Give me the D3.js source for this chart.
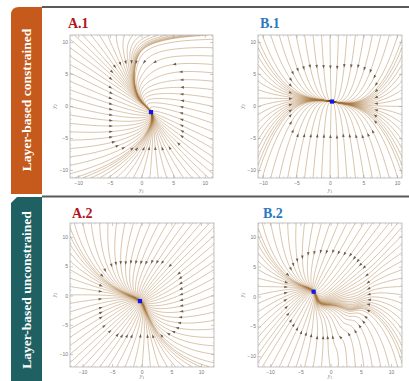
<!DOCTYPE html>
<html>
<head>
<meta charset="utf-8">
<script src="https://cdn.jsdelivr.net/npm/d3@7"></script>
<style>
  html, body { margin: 0; padding: 0; background: #fff; }
  svg { display: block; }
</style>
</head>
<body>
<div id="chart"></div>
<script>
// values (data coordinates)
const panelTitles = ["A.1", "B.1", "A.2", "B.2"];
const rowLabels = ["Layer-based constrained", "Layer-based unconstrained"];
const tickValues = [-10, -5, 0, 5, 10];

const xDomainA1 = [-11.3, 11.3], yDomainA1 = [-11.25, 11.1];
const xDomainB1 = [-10.75, 10.75], yDomainB1 = [-11.25, 11.1];
const xDomainA2 = [-12.1, 12.2], yDomainA2 = [-12.2, 12.4];
const xDomainB2 = [-12.0, 11.8], yDomainB2 = [-11.8, 12.3];

// fixed points (blue dots)
const fixedA1 = [1.5, -0.95];
const fixedB1 = [0.3, 0.7];
const fixedA2 = [-0.3, -0.94];
const fixedB2 = [-2.8, 0.8];

// fast contraction direction of each field
const fastA1 = [0.894, -0.447];
const fastB1 = [0, 1];
const fastA2 = [0.707, 0.707];
const fastB2 = [0.447, 0.894];

// dense bundles of streamlines (slow manifold)
const manifoldA1 = [[1.5, -13], [1.5, -4], [1.5, -0.95], [0.4, 0.1], [-0.8, 1.2], [-1.4, 3], [-1.5, 4.8],
  [-1.2, 6.5], [-0.75, 8], [0.3, 9.1], [1.8, 9.8], [4, 10.3], [6, 10.6], [9, 10.8], [11.3, 10.9], [15, 11]];
const manifoldB1 = [[-14, 1.4], [-5.8, 1.15], [-3, 1.05], [-0.7, 0.85], [0.3, 0.7], [1.5, 0.45],
  [3.5, 0.2], [5.7, 0.05], [14, -0.3]];
const manifoldA2 = [[-15, 2.2], [-6.4, 0.38], [-3.6, -0.2], [-0.3, -0.94], [0.03, -2.5], [0.4, -4.75],
  [0.6, -7], [1.1, -15]];
const manifoldB2 = [[-15, 1.6], [-5, 1.1], [-2.8, 0.8], [-2.35, -1.7], [0.13, -0.87], [2.9, 0],
  [5.1, 0.8], [7.3, 2.8], [12, 5]];

// fast / slow rate ratio
const ratioA1 = 1.6, ratioB1 = 3, ratioA2 = 1.7, ratioB2 = 1.8;

// where the arrow heads sit: centre x, centre y, half width, half height, roundness
const arrowRingA1 = [0.75, 0.1, 5.75, 6.8, 6];
const arrowRingB1 = [0.45, 0.7, 6.45, 5.6, 6];
const arrowRingA2 = [-0.1, -0.6, 6.9, 6.4, 4];
const arrowRingB2 = [-0.5, 0.3, 7.0, 7.3, 2.5];

const seedsPerEdge = 17;

const width = 409, height = 381;

const svg = d3.select("#chart").append("svg")
  .attr("width", width)
  .attr("height", height);

// ---- side tabs and separators
const orange = "#c55a1c", teal = "#1f6163";
svg.append("path")
  .attr("d", "M11,15 Q11,7 19,7 L42,7 L42,194 L11,194 Z")
  .attr("fill", orange);
svg.append("path")
  .attr("d", "M11,203 L17,197 L42,197 L42,381 L11,381 Z")
  .attr("fill", teal);

svg.append("line").attr("x1", 42).attr("x2", width).attr("y1", 7).attr("y2", 7)
  .attr("stroke", "#5a5a5a").attr("stroke-width", 2);
svg.append("line").attr("x1", 42).attr("x2", width).attr("y1", 196.5).attr("y2", 196.5)
  .attr("stroke", "#5a5a5a").attr("stroke-width", 2);

[[100, rowLabels[0]], [290, rowLabels[1]]].forEach(([cy, label]) => {
  svg.append("text")
    .attr("transform", "translate(31," + cy + ") rotate(-90)")
    .attr("text-anchor", "middle")
    .attr("font-family", "Liberation Serif, serif")
    .attr("font-weight", "bold")
    .attr("font-size", "13.5px")
    .attr("fill", "#fff")
    .text(label);
});

// ---- panels
const panels = [
  { title: panelTitles[0], color: "#b3161c", xDom: xDomainA1, yDom: yDomainA1, fixed: fixedA1, fast: fastA1,
    manifold: manifoldA1, ratio: ratioA1, ring: arrowRingA1, left: 70, right: 213, top: 35, bottom: 178, tx: 68, ty: 28 },
  { title: panelTitles[1], color: "#2a78c0", xDom: xDomainB1, yDom: yDomainB1, fixed: fixedB1, fast: fastB1,
    manifold: manifoldB1, ratio: ratioB1, ring: arrowRingB1, left: 258, right: 402, top: 35, bottom: 178, tx: 260, ty: 28 },
  { title: panelTitles[2], color: "#b3161c", xDom: xDomainA2, yDom: yDomainA2, fixed: fixedA2, fast: fastA2,
    manifold: manifoldA2, ratio: ratioA2, ring: arrowRingA2, left: 70, right: 214, top: 223, bottom: 367, tx: 72, ty: 218 },
  { title: panelTitles[3], color: "#2a78c0", xDom: xDomainB2, yDom: yDomainB2, fixed: fixedB2, fast: fastB2,
    manifold: manifoldB2, ratio: ratioB2, ring: arrowRingB2, left: 258, right: 402, top: 223, bottom: 367, tx: 263, ty: 218 }
];

// builds w = g(s): offset of the bundle along the fast direction, as a function of the slow coordinate
function buildManifold(p) {
  const f = p.fast, n = [f[1], -f[0]];
  let sv = p.manifold.map(d => (d[0] - p.fixed[0]) * n[0] + (d[1] - p.fixed[1]) * n[1]);
  let wv = p.manifold.map(d => (d[0] - p.fixed[0]) * f[0] + (d[1] - p.fixed[1]) * f[1]);
  const si = d3.interpolateBasis(sv), wi = d3.interpolateBasis(wv);
  let ss = d3.range(0, 301).map(i => si(i / 300));
  let ws = d3.range(0, 301).map(i => wi(i / 300));
  if (ss[ss.length - 1] < ss[0]) { ss.reverse(); ws.reverse(); }
  const raw = d3.scaleLinear().domain(ss).range(ws);
  const off = raw(0);
  return { n: n, f: f, g: s => raw(s) - off };
}

function streamline(p, m, seed) {
  const rx = seed[0] - p.fixed[0], ry = seed[1] - p.fixed[1];
  const s0 = rx * m.n[0] + ry * m.n[1];
  const w0 = rx * m.f[0] + ry * m.f[1];
  const u0 = w0 - m.g(s0);
  const pts = [];
  for (let tau = 0; tau < 12; tau += 0.02) {
    const s = s0 * Math.exp(-tau);
    const u = u0 * Math.exp(-p.ratio * tau);
    const w = m.g(s) + u;
    const px = p.fixed[0] + s * m.n[0] + w * m.f[0];
    const py = p.fixed[1] + s * m.n[1] + w * m.f[1];
    pts.push([px, py]);
    if (Math.hypot(px - p.fixed[0], py - p.fixed[1]) < 0.03) break;
  }
  pts.push(p.fixed);
  return pts;
}

panels.forEach((p, idx) => {
  const x = d3.scaleLinear().domain(p.xDom).range([p.left, p.right]);
  const y = d3.scaleLinear().domain(p.yDom).range([p.bottom, p.top]);
  const m = buildManifold(p);

  svg.append("text")
    .attr("x", p.tx).attr("y", p.ty)
    .attr("font-family", "Liberation Serif, serif")
    .attr("font-weight", "bold")
    .attr("font-size", "14px")
    .attr("fill", p.color)
    .text(p.title);

  svg.append("clipPath").attr("id", "clip" + idx)
    .append("rect")
    .attr("x", p.left).attr("y", p.top)
    .attr("width", p.right - p.left).attr("height", p.bottom - p.top);

  const g = svg.append("g").attr("clip-path", "url(#clip" + idx + ")");

  // seeds spread along the four edges
  const seeds = [];
  for (let i = 0; i < seedsPerEdge; i++) {
    const t = (i + 0.5) / seedsPerEdge;
    const xs = p.xDom[0] + t * (p.xDom[1] - p.xDom[0]);
    const ys = p.yDom[0] + t * (p.yDom[1] - p.yDom[0]);
    seeds.push([xs, p.yDom[0]], [xs, p.yDom[1]], [p.xDom[0], ys], [p.xDom[1], ys]);
  }
  const lines = seeds.map(sd => streamline(p, m, sd));

  const line = d3.line().x(d => x(d[0])).y(d => y(d[1]));
  g.selectAll(".stream")
    .data(lines)
    .enter().append("path")
    .attr("class", "stream")
    .attr("d", line)
    .attr("fill", "none")
    .attr("stroke", "#a8773f")
    .attr("stroke-width", 0.55)
    .attr("stroke-opacity", 0.8);

  // arrow heads where each line enters the arrow ring (skipping ones that would overlap)
  const r = p.ring;
  const ringDist = d => Math.pow(Math.pow(Math.abs(d[0] - r[0]) / r[2], r[4]) + Math.pow(Math.abs(d[1] - r[1]) / r[3], r[4]), 1 / r[4]);
  const heads = [];
  lines.forEach(pts => {
    if (ringDist(pts[0]) <= 1) return;
    for (let i = 1; i < pts.length - 1; i++) {
      if (ringDist(pts[i]) <= 1) {
        const a = [x(pts[i - 1][0]), y(pts[i - 1][1])], b = [x(pts[i + 1][0]), y(pts[i + 1][1])];
        const c = [x(pts[i][0]), y(pts[i][1])];
        if (heads.some(h => Math.hypot(h.c[0] - c[0], h.c[1] - c[1]) < 4.5)) break;
        let dx = b[0] - a[0], dy = b[1] - a[1];
        const len = Math.hypot(dx, dy) || 1;
        dx /= len; dy /= len;
        heads.push({ c: c, dx: dx, dy: dy });
        break;
      }
    }
  });
  g.selectAll(".head")
    .data(heads)
    .enter().append("path")
    .attr("class", "head")
    .attr("d", h => {
      const tip = [h.c[0] + h.dx * 2, h.c[1] + h.dy * 2];
      const bx = h.c[0] - h.dx * 1.6, by = h.c[1] - h.dy * 1.6;
      return "M" + tip[0] + "," + tip[1] +
        "L" + (bx - h.dy * 1.3) + "," + (by + h.dx * 1.3) +
        "L" + (bx + h.dy * 1.3) + "," + (by - h.dx * 1.3) + "Z";
    })
    .attr("fill", "#6f5a49");

  // fixed point
  svg.append("rect")
    .attr("x", x(p.fixed[0]) - 2.1).attr("y", y(p.fixed[1]) - 2.1)
    .attr("width", 4.2).attr("height", 4.2)
    .attr("fill", "#1414ee");

  // frame with ticks
  svg.append("rect")
    .attr("x", p.left).attr("y", p.top)
    .attr("width", p.right - p.left).attr("height", p.bottom - p.top)
    .attr("fill", "none").attr("stroke", "#a8a8a8").attr("stroke-width", 0.7);

  const minor = d3.range(Math.ceil(p.xDom[0]), Math.floor(p.xDom[1]) + 1);
  const minorY = d3.range(Math.ceil(p.yDom[0]), Math.floor(p.yDom[1]) + 1);
  const frameAxes = [
    [d3.axisBottom(x), "translate(0," + p.bottom + ")", minor],
    [d3.axisTop(x), "translate(0," + p.top + ")", minor],
    [d3.axisLeft(y), "translate(" + p.left + ",0)", minorY],
    [d3.axisRight(y), "translate(" + p.right + ",0)", minorY]
  ];
  frameAxes.forEach(([ax, tr, mv], k) => {
    const major = svg.append("g").attr("transform", tr)
      .call(ax.tickValues(tickValues).tickSizeInner(-3).tickSizeOuter(0).tickPadding(k === 0 ? 3 : 2)
        .tickFormat(k < 1 || k === 2 ? d3.format("d") : ""));
    major.select(".domain").remove();
    major.selectAll("line").attr("stroke", "#999").attr("stroke-width", 0.5);
    major.selectAll("text").attr("fill", "#777").attr("font-size", "5px").attr("font-family", "Liberation Sans, sans-serif");
    const mn = svg.append("g").attr("transform", tr)
      .call(ax.tickValues(mv.filter(v => v % 5 !== 0)).tickSizeInner(-1.5).tickFormat(""));
    mn.select(".domain").remove();
    mn.selectAll("line").attr("stroke", "#aaa").attr("stroke-width", 0.4);
  });

  // axis labels
  const xl = svg.append("text")
    .attr("x", (p.left + p.right) / 2).attr("y", Math.min(p.bottom + 14, height - 3))
    .attr("text-anchor", "middle")
    .attr("font-family", "Liberation Serif, serif")
    .attr("font-style", "italic")
    .attr("font-size", "5.5px").attr("fill", "#777");
  xl.append("tspan").text("y");
  xl.append("tspan").attr("font-size", "4px").attr("dy", 0.8).text("1");

  const yl = svg.append("text")
    .attr("transform", "translate(" + (p.left - 14) + "," + ((p.top + p.bottom) / 2) + ") rotate(-90)")
    .attr("text-anchor", "middle")
    .attr("font-family", "Liberation Serif, serif")
    .attr("font-style", "italic")
    .attr("font-size", "5.5px").attr("fill", "#777");
  yl.append("tspan").text("y");
  yl.append("tspan").attr("font-size", "4px").attr("dy", 0.8).text("2");
});
</script>
</body>
</html>
